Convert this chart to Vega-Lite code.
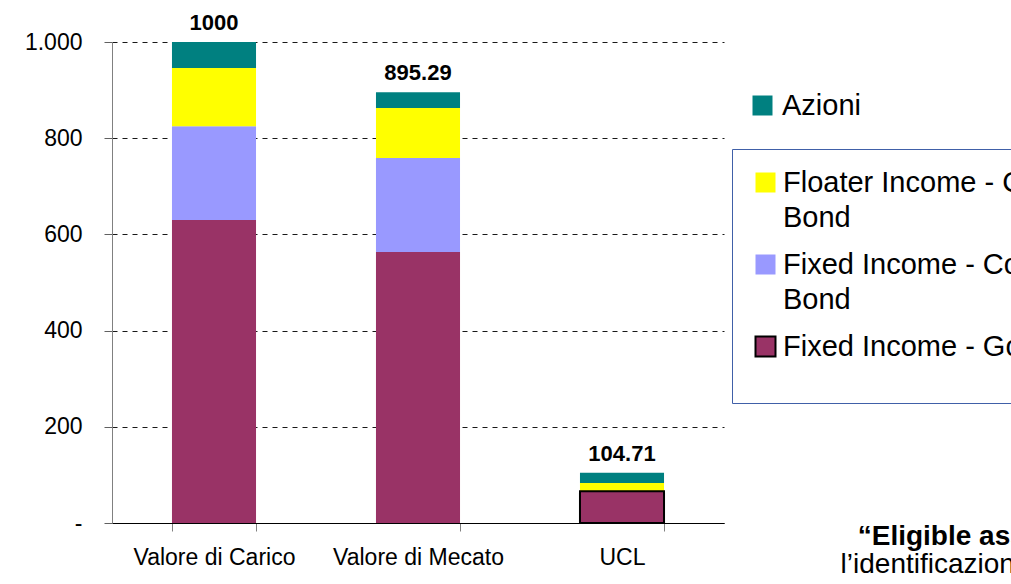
{
  "$schema": "https://vega.github.io/schema/vega-lite/v6.json",
  "width": 612,
  "height": 481,
  "autosize": {"type": "none"},
  "padding": {"left": 112, "top": 42, "right": 287, "bottom": 61},
  "background": "white",
  "config": {
    "view": {"stroke": null},
    "font": "Liberation Sans"
  },
  "title": {
    "text": "“Eligible assets”",
    "subtitle": "l’identificazione degli",
    "orient": "bottom",
    "anchor": "start",
    "frame": "group",
    "align": "center",
    "dx": 857,
    "dy": -50,
    "fontSize": 28,
    "fontWeight": "bold",
    "color": "black",
    "subtitleFontSize": 28,
    "subtitleColor": "black",
    "subtitlePadding": 0
  },
  "data": {
    "values": [
      {"cat": "Valore di Carico", "series": "Fixed Income - Government Bond", "value": 630},
      {"cat": "Valore di Carico", "series": "Fixed Income - Corporate Bond", "value": 195},
      {"cat": "Valore di Carico", "series": "Floater Income - Corporate Bond", "value": 121},
      {"cat": "Valore di Carico", "series": "Azioni", "value": 54},
      {"cat": "Valore di Mecato", "series": "Fixed Income - Government Bond", "value": 563.4},
      {"cat": "Valore di Mecato", "series": "Fixed Income - Corporate Bond", "value": 195.4},
      {"cat": "Valore di Mecato", "series": "Floater Income - Corporate Bond", "value": 104},
      {"cat": "Valore di Mecato", "series": "Azioni", "value": 32.49},
      {"cat": "UCL", "series": "Fixed Income - Government Bond", "value": 66},
      {"cat": "UCL", "series": "Fixed Income - Corporate Bond", "value": 0},
      {"cat": "UCL", "series": "Floater Income - Corporate Bond", "value": 17},
      {"cat": "UCL", "series": "Azioni", "value": 21.71}
    ]
  },
  "transform": [
    {"stack": "value", "groupby": ["cat"], "as": ["y0", "y1"]}
  ],
  "encoding": {
    "x": {
      "field": "cat",
      "type": "nominal",
      "sort": null,
      "scale": {"paddingInner": 0.588, "paddingOuter": 0.294},
      "axis": {
        "title": null,
        "labelAngle": 0,
        "labelFontSize": 23,
        "labelColor": "black",
        "labelPadding": 15,
        "tickBand": "extent",
        "tickSize": 8,
        "tickColor": "#808080",
        "domainColor": "black",
        "domainWidth": 1,
        "grid": false
      }
    }
  },
  "layer": [
    {
      "transform": [{"filter": "datum.series != 'Azioni'"}],
      "mark": {"type": "bar"},
      "encoding": {
        "y": {
          "field": "y1",
          "type": "quantitative",
          "scale": {"domain": [0, 1000], "nice": false},
          "axis": {
            "title": null,
            "values": [0, 200, 400, 600, 800, 1000],
            "labelExpr": "datum.value == 0 ? '-' : replace(format(datum.value, ','), ',', '.')",
            "labelFontSize": 23,
            "labelColor": "black",
            "labelPadding": 22,
            "tickSize": 8,
            "tickColor": "#606060",
            "domainColor": "#808080",
            "grid": true,
            "gridColor": "black",
            "gridDash": [5, 5],
            "gridWidth": 1,
            "gridOpacity": 0.9
          }
        },
        "y2": {"field": "y0"},
        "color": {
          "field": "series",
          "type": "nominal",
          "scale": {
            "domain": ["Floater Income - Corporate Bond", "Fixed Income - Corporate Bond", "Fixed Income - Government Bond"],
            "range": ["#FFFF00", "#9999FF", "#993366"]
          },
          "legend": {
            "title": " ",
            "titleOrient": "bottom",
            "titleFontSize": 18,
            "titlePadding": 4,
            "orient": "none",
            "legendX": 620,
            "legendY": 107,
            "padding": 19,
            "strokeColor": "#4060a8",
            "fillColor": "white",
            "symbolType": "square",
            "symbolSize": 400,
            "labelFontSize": 29,
            "labelColor": "black",
            "labelLimit": 700,
            "labelOffset": 3,
            "rowPadding": 17,
            "labelExpr": "datum.label == 'Fixed Income - Government Bond' ? 'Fixed Income - Government Bond' : split(replace(datum.label, ' Bond', '|Bond'), '|')",
            "labelBaseline": "middle",
            "encode": {
              "labels": {"update": {"lineHeight": {"value": 35}}},
              "symbols": {"update": {
                "stroke": {"signal": "datum.value == 'Fixed Income - Government Bond' ? 'black' : 'transparent'"},
                "strokeWidth": {"value": 2}
              }}
            }
          }
        }
      }
    },
    {
      "transform": [{"filter": "datum.cat == 'UCL' && datum.series == 'Fixed Income - Government Bond'"}],
      "mark": {"type": "bar", "filled": false, "stroke": "black", "strokeWidth": 2},
      "encoding": {
        "y": {"field": "y1", "type": "quantitative"},
        "y2": {"field": "y0"}
      }
    },
    {
      "transform": [{"filter": "datum.series == 'Azioni'"}],
      "mark": {"type": "bar"},
      "encoding": {
        "y": {"field": "y1", "type": "quantitative"},
        "y2": {"field": "y0"},
        "color": {
          "field": "series",
          "type": "nominal",
          "scale": {"domain": ["Azioni"], "range": ["#008080"]},
          "legend": {
            "title": null,
            "orient": "none",
            "legendX": 636,
            "legendY": 49,
            "padding": 0,
            "symbolType": "square",
            "symbolSize": 400,
            "symbolStrokeWidth": 0,
            "labelFontSize": 29,
            "labelColor": "black",
            "labelLimit": 600,
            "labelOffset": 5
          }
        }
      }
    },
    {
      "transform": [
        {"aggregate": [{"op": "max", "field": "y1", "as": "total"}], "groupby": ["cat"]}
      ],
      "mark": {"type": "text", "fontWeight": "bold", "fontSize": 22, "baseline": "alphabetic", "dy": -12, "color": "black"},
      "encoding": {
        "y": {"field": "total", "type": "quantitative"},
        "text": {"field": "total", "type": "quantitative", "format": ".2~f"}
      }
    }
  ],
  "resolve": {"scale": {"color": "independent"}}
}
